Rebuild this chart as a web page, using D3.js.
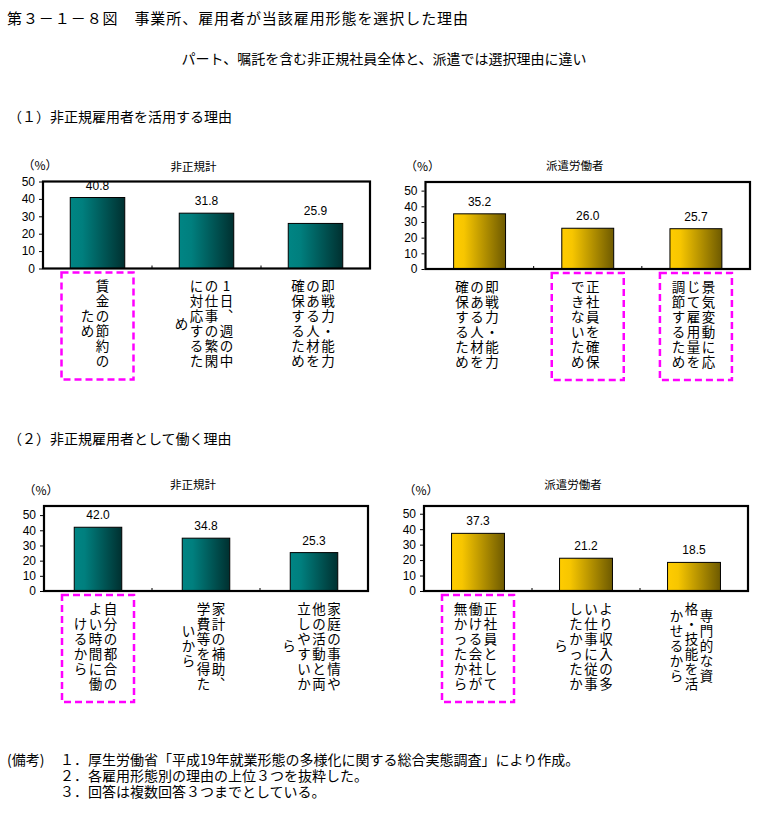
<!DOCTYPE html>
<html><head><meta charset="utf-8">
<script src="https://cdn.jsdelivr.net/npm/d3@7"></script>
<style>
body{margin:0;background:#fff;}
svg text{font-family:"Noto Sans CJK JP","Noto Sans",sans-serif;fill:#000;}
svg .num{font-family:"Liberation Sans",Arial,sans-serif;}
</style></head><body>
<svg id="chart" width="773" height="821"></svg>
<script>
// ---------- data ----------
const figTitle = "第３－１－８図　事業所、雇用者が当該雇用形態を選択した理由";
const subTitle = "パート、嘱託を含む非正規社員全体と、派遣では選択理由に違い";
const sectionTitles = ["（１）非正規雇用者を活用する理由", "（２）非正規雇用者として働く理由"];
const panelTitles = ["非正規計", "派遣労働者", "非正規計", "派遣労働者"];
const yTicks = [0, 10, 20, 30, 40, 50];
const unitLabel = "（%）";

const catsUseAll  = ["賃金の節約の\nため", "1日、週の中\nの仕事の繁閑\nに対応するた\nめ", "即戦力・能力\nのある人材を\n確保するため"];
const valsUseAll  = [40.8, 31.8, 25.9];
const hlUseAll    = [true, false, false];

const catsUseDisp = ["即戦力・能力\nのある人材を\n確保するため", "正社員を確保\nできないため", "景気変動に応\nじて雇用量を\n調節するため"];
const valsUseDisp = [35.2, 26.0, 25.7];
const hlUseDisp   = [false, true, true];

const catsWorkAll  = ["自分の都合の\nよい時間に働\nけるから", "家計の補助、\n学費等を得た\nいから", "家庭の事情や\n他の活動と両\n立しやすいか\nら"];
const valsWorkAll  = [42.0, 34.8, 25.3];
const hlWorkAll    = [true, false, false];

const catsWorkDisp = ["正社員として\n働ける会社が\n無かったから", "より収入の多\nい仕事に従事\nしたかったか\nら", "専門的な資\n格・技能を活\nかせるから"];
const valsWorkDisp = [37.3, 21.2, 18.5];
const hlWorkDisp   = [true, false, false];

const notesHead = "(備考)";
const notes = [
  "１．厚生労働省「平成19年就業形態の多様化に関する総合実態調査」により作成。",
  "２．各雇用形態別の理由の上位３つを抜粋した。",
  "３．回答は複数回答３つまでとしている。"
];

// ---------- layout ----------
const panels = [
  {cats: catsUseAll,   vals: valsUseAll,   hl: hlUseAll,   title: panelTitles[0], x0: 43,    x1: 370, top: 181.5, bottom: 268.5, ymax: 50,   pad: 0.50, grad: "gTeal", titleY: 165.5},
  {cats: catsUseDisp,  vals: valsUseDisp,  hl: hlUseDisp,  title: panelTitles[1], x0: 425.5, x1: 750, top: 182,   bottom: 269,   ymax: 55.5, pad: 0.52, grad: "gGold", titleY: 165},
  {cats: catsWorkAll,  vals: valsWorkAll,  hl: hlWorkAll,  title: panelTitles[2], x0: 44,    x1: 368, top: 506,   bottom: 591,   ymax: 56,   pad: 0.56, grad: "gTeal", titleY: 483.5},
  {cats: catsWorkDisp, vals: valsWorkDisp, hl: hlWorkDisp, title: panelTitles[3], x0: 424,   x1: 748, top: 506,   bottom: 591,   ymax: 55,   pad: 0.51, grad: "gGold", titleY: 484}
];

const svg = d3.select("#chart");
const defs = svg.append("defs");
function grad(id, stops) {
  const g = defs.append("linearGradient").attr("id", id).attr("x1", "0%").attr("x2", "100%").attr("y1", "0%").attr("y2", "0%");
  stops.forEach(s => g.append("stop").attr("offset", s[0]).attr("stop-color", s[1]));
}
grad("gTeal", [["0%", "#008584"], ["22%", "#007f7e"], ["100%", "#003030"]]);
grad("gGold", [["0%", "#ffcc00"], ["20%", "#f7c600"], ["100%", "#6e5a00"]]);

// headings
svg.append("text").attr("x", 7).attr("y", 17).attr("dominant-baseline", "central")
  .attr("font-size", 15).attr("textLength", 461).attr("lengthAdjust", "spacing").text(figTitle);
svg.append("text").attr("x", 384).attr("y", 58).attr("dominant-baseline", "central")
  .attr("text-anchor", "middle").attr("font-size", 14).text(subTitle);
svg.append("text").attr("x", 8).attr("y", 116).attr("dominant-baseline", "central").attr("font-size", 14).text(sectionTitles[0]);
svg.append("text").attr("x", 8).attr("y", 438).attr("dominant-baseline", "central").attr("font-size", 14).text(sectionTitles[1]);

const vertMap = {"、": "︑", "。": "︒"};
const pitch = 15;

panels.forEach(p => {
  const g = svg.append("g");
  const idx = d3.range(p.cats.length);
  const x = d3.scaleBand().domain(idx).range([p.x0, p.x1]).paddingInner(p.pad).paddingOuter(p.pad / 2);
  const y = d3.scaleLinear().domain([0, p.ymax]).range([p.bottom, p.top]);
  const step = x.step();

  // bars
  g.selectAll("rect.bar").data(idx).join("rect").attr("class", "bar")
    .attr("x", i => x(i)).attr("width", x.bandwidth())
    .attr("y", i => y(p.vals[i])).attr("height", i => y(0) - y(p.vals[i]))
    .attr("fill", `url(#${p.grad})`).attr("stroke", "#000").attr("stroke-width", 1);

  // frame
  g.append("rect").attr("x", p.x0).attr("y", p.top).attr("width", p.x1 - p.x0).attr("height", p.bottom - p.top)
    .attr("fill", "none").attr("stroke", "#000").attr("stroke-width", 2.2);

  // category boundary ticks
  g.selectAll("line.ct").data(idx.slice(1)).join("line").attr("class", "ct")
    .attr("x1", i => x(i) - step * p.pad / 2).attr("x2", i => x(i) - step * p.pad / 2)
    .attr("y1", p.bottom).attr("y2", p.bottom - 3).attr("stroke", "#000").attr("stroke-width", 1);

  // y axis
  const ax = g.append("g").attr("transform", `translate(${p.x0 - 1},0)`)
    .call(d3.axisLeft(y).tickValues(yTicks).tickSize(3).tickPadding(4).tickFormat(d3.format("d")));
  ax.select(".domain").remove();
  ax.selectAll("line").attr("stroke", "#000");
  ax.selectAll("text").attr("class", "num").attr("font-size", 12).attr("fill", "#000");

  // value labels
  g.selectAll("text.val").data(idx).join("text").attr("class", "num val")
    .attr("x", i => x(i) + x.bandwidth() / 2).attr("y", i => y(p.vals[i]) - 8)
    .attr("text-anchor", "middle").attr("font-size", 12)
    .text(i => d3.format(".1f")(p.vals[i]));

  // titles
  g.append("text").attr("x", (p.x0 + p.x1) / 2 - 13).attr("y", p.titleY).attr("dominant-baseline", "central")
    .attr("text-anchor", "middle").attr("font-size", 11.5).text(p.title);
  g.append("text").attr("x", p.x0 - 3).attr("y", p.top - 17).attr("dominant-baseline", "central")
    .attr("text-anchor", "middle").attr("font-size", 12).text(unitLabel);

  // vertical category labels (columns right to left, each column centred vertically)
  idx.forEach(i => {
    const cols = p.cats[i].split("\n");
    const maxLen = d3.max(cols, c => [...c].length);
    const cx = x(i) + x.bandwidth() / 2 - 2.5;
    cols.forEach((col, j) => {
      const chars = [...col];
      const colX = cx + (cols.length - 1) / 2 * pitch - j * pitch;
      const off = (maxLen - chars.length) / 2;
      chars.forEach((ch, k) => {
        g.append("text").attr("x", colX).attr("y", p.bottom + 16.5 + (off + k) * pitch)
          .attr("text-anchor", "middle").attr("dominant-baseline", "central")
          .attr("font-size", 13.5).text(vertMap[ch] || ch);
      });
    });
    if (p.hl[i]) {
      g.append("rect").attr("x", x(i) + x.bandwidth() / 2 - 36).attr("y", p.bottom + 4)
        .attr("width", 72).attr("height", 107).attr("fill", "none")
        .attr("stroke", "#ff00ff").attr("stroke-width", 2.5).attr("stroke-dasharray", "7,4");
    }
  });
});

// notes
svg.append("text").attr("x", 7).attr("y", 759).attr("dominant-baseline", "central").attr("font-size", 14).text(notesHead);
svg.selectAll("text.note").data(notes).join("text").attr("class", "note")
  .attr("x", 60).attr("y", (d, i) => 759 + i * 16).attr("dominant-baseline", "central")
  .attr("font-size", 14).text(d => d);
</script>
</body></html>
